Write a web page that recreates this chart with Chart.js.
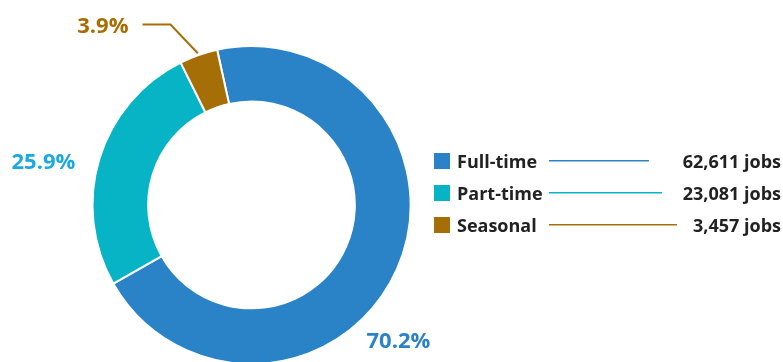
<!DOCTYPE html>
<html>
<head>
<meta charset="utf-8">
<script src="https://cdn.jsdelivr.net/npm/chart.js@4/dist/chart.umd.min.js"></script>
<style>
  html, body { margin: 0; padding: 0; background: #fff; overflow: hidden; }
  #wrap { position: relative; width: 783px; height: 366px; }
</style>
</head>
<body>
<div id="wrap"><canvas id="c"></canvas></div>
<script>
const categories = ["Full-time", "Part-time", "Seasonal"];
const jobs = [62611, 23081, 3457];
const percentLabels = ["70.2%", "25.9%", "3.9%"];
const valueLabels = ["62,611 jobs", "23,081 jobs", "3,457 jobs"];
const sliceColors = ["#2A83C6", "#06B4C6", "#A66E07"];
const percentColors = ["#2A83C6", "#1BA8E6", "#A86D00"];

const FONT = "'Open Sans', 'Noto Sans', sans-serif";

const overlay = {
  id: "overlay",
  afterDraw(chart) {
    const ctx = chart.ctx;
    const meta = chart.getDatasetMeta(0);
    const arcs = meta.data;
    const cx = arcs[0].x, cy = arcs[0].y, R = arcs[0].outerRadius;

    ctx.save();
    ctx.font = "bold 22px " + FONT;
    ctx.textBaseline = "middle";
    ctx.fillStyle = percentColors[0];
    ctx.textAlign = "left";
    ctx.fillText(percentLabels[0], cx + 115, cy + 137);
    ctx.fillStyle = percentColors[1];
    ctx.textAlign = "left";
    ctx.fillText(percentLabels[1], cx - 240, cy - 42);
    ctx.fillStyle = percentColors[2];
    ctx.textAlign = "right";
    ctx.fillText(percentLabels[2], cx - 123, cy - 178.5);
    const a = arcs[2];
    const mid = (a.startAngle + a.endAngle) / 2;
    const px = cx + Math.cos(mid) * (R + 2);
    const py = cy + Math.sin(mid) * (R + 2);
    ctx.strokeStyle = sliceColors[2];
    ctx.lineWidth = 2;
    ctx.beginPath();
    ctx.moveTo(px, py);
    ctx.lineTo(cx - 81, cy - 180.5);
    ctx.lineTo(cx - 109, cy - 180.5);
    ctx.stroke();

    const rowY = [161, 193, 225];
    const lineEnds = [649, 662, 677];
    const lineColors = ["#2A83C6", "#06B4C6", "#A66E07"];
    for (let i = 0; i < categories.length; i++) {
      const y = rowY[i];
      ctx.fillStyle = sliceColors[i];
      ctx.fillRect(434, y - 8, 16, 16);
      ctx.fillStyle = "#222";
      ctx.textAlign = "left";
      ctx.font = "bold 18px " + FONT;
      ctx.fillText(categories[i], 457, y + 1.5);
      ctx.strokeStyle = lineColors[i];
      ctx.lineWidth = 1.5;
      ctx.beginPath();
      ctx.moveTo(549, y - 0.3);
      ctx.lineTo(lineEnds[i], y - 0.3);
      ctx.stroke();
      ctx.textAlign = "right";
      ctx.font = "bold 18px " + FONT;
      ctx.fillStyle = "#222";
      ctx.fillText(valueLabels[i], 781, y + 1.5);
    }
    ctx.restore();
  }
};

new Chart(document.getElementById("c"), {
  type: "doughnut",
  data: {
    labels: categories,
    datasets: [{
      data: jobs,
      backgroundColor: sliceColors,
      borderColor: "#ffffff",
      borderWidth: 2,
      hoverOffset: 0
    }]
  },
  options: {
    responsive: true,
    maintainAspectRatio: false,
    animation: false,
    cutout: "65%",
    rotation: -12.5,
    layout: { padding: { left: 91, right: 371, top: 45, bottom: 1 } },
    plugins: {
      legend: { display: false },
      tooltip: { enabled: false }
    }
  },
  plugins: [overlay]
});
</script>
</body>
</html>
